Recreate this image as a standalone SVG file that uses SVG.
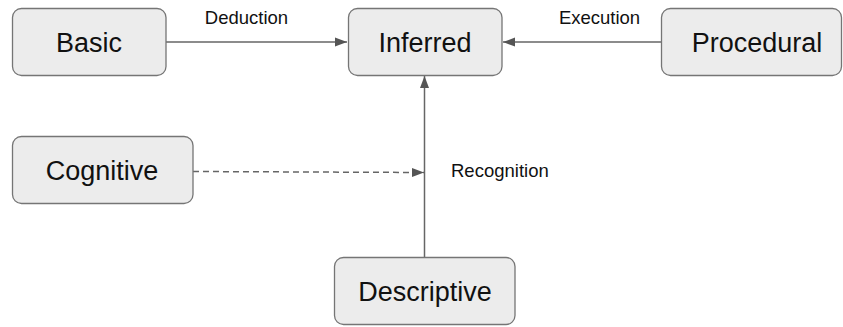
<svg xmlns="http://www.w3.org/2000/svg" width="843" height="327" viewBox="0 0 843 327">
<style>
.box{fill:#ececec;stroke:#757575;stroke-width:1.3}
.nl{font-family:"Liberation Sans",Arial,sans-serif;font-size:27px;fill:#111;text-anchor:middle}
.el{font-family:"Liberation Sans",Arial,sans-serif;font-size:18.5px;fill:#111}
.ln{stroke:#666;stroke-width:1.5;fill:none}
</style>
<defs>
<marker id="ah" viewBox="0 0 12 12" refX="12" refY="6" markerWidth="12" markerHeight="12" markerUnits="userSpaceOnUse" orient="auto">
<path d="M0,1.5 L12,6 L0,10.5 Z" fill="#555"/>
</marker>
</defs>
<rect width="843" height="327" fill="#fff"/>
<g id="connectors">
<line class="ln" x1="166" y1="42" x2="347" y2="42" marker-end="url(#ah)"/>
<line class="ln" x1="661" y1="42" x2="503" y2="42" marker-end="url(#ah)"/>
<line class="ln" x1="424.5" y1="257" x2="424.5" y2="76" marker-end="url(#ah)"/>
<line class="ln" x1="193" y1="171.5" x2="424" y2="172.5" stroke-dasharray="6,4" marker-end="url(#ah)"/>
<text class="el" x="246.5" y="24" text-anchor="middle">Deduction</text>
<text class="el" x="599.5" y="24" text-anchor="middle">Execution</text>
<text class="el" x="451" y="176.5">Recognition</text>
</g>
<g id="basic">
<rect class="box" x="12.5" y="8.5" width="153.5" height="67" rx="9"/>
<text class="nl" x="89" y="52">Basic</text>
</g>
<g id="inferred">
<rect class="box" x="348.5" y="8.5" width="153.5" height="67" rx="9"/>
<text class="nl" x="425" y="52">Inferred</text>
</g>
<g id="procedural">
<rect class="box" x="661.5" y="8.5" width="180" height="67" rx="9"/>
<text class="nl" x="757" y="52">Procedural</text>
</g>
<g id="cognitive">
<rect class="box" x="12.5" y="136.5" width="180.5" height="67" rx="9"/>
<text class="nl" x="102" y="180">Cognitive</text>
</g>
<g id="descriptive">
<rect class="box" x="334.5" y="257.5" width="180.5" height="67" rx="9"/>
<text class="nl" x="425" y="301">Descriptive</text>
</g>
</svg>
